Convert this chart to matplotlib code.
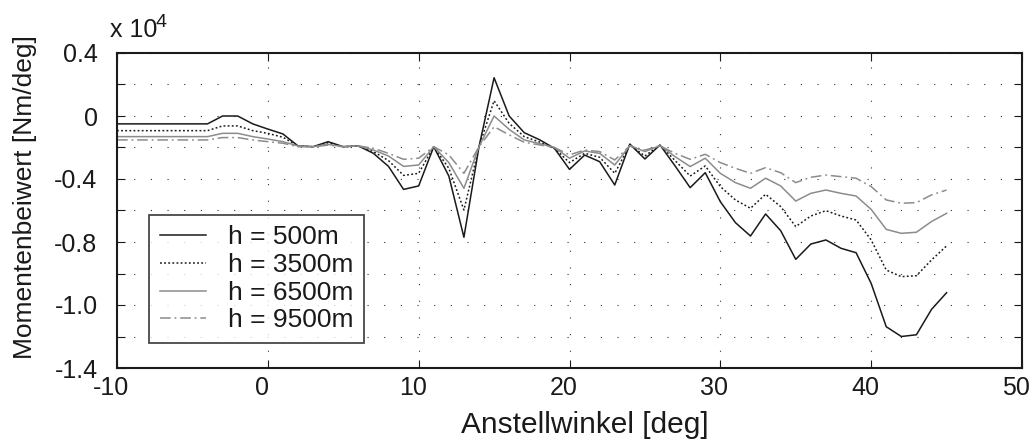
import matplotlib
matplotlib.use("Agg")
import matplotlib.pyplot as plt
import matplotlib.transforms as mtransforms
import numpy as np

plt.rcParams['font.family'] = ['Liberation Sans', 'DejaVu Sans']

x = [-10, -9, -8, -7, -6, -5, -4, -3, -2, -1, 0, 1, 2, 3, 4, 5, 6, 7, 8, 9, 10,
     11, 12, 13, 14, 15, 16, 17, 18, 19, 20, 21, 22, 23, 24, 25, 26, 27, 28, 29,
     30, 31, 32, 33, 34, 35, 36, 37, 38, 39, 40, 41, 42, 43, 44, 45]

h500 = [-0.05, -0.05, -0.05, -0.05, -0.05, -0.05, -0.05, 0.0, 0.0, -0.05, -0.083, -0.114,
        -0.19, -0.195, -0.163, -0.195, -0.19, -0.237, -0.32, -0.466, -0.444,
        -0.195, -0.381, -0.77, -0.195, 0.243, 0.0, -0.106, -0.15, -0.205, -0.339,
        -0.248, -0.29, -0.438, -0.178, -0.273, -0.184, -0.317, -0.455, -0.36,
        -0.544, -0.677, -0.762, -0.622, -0.728, -0.91, -0.813, -0.787, -0.84, -0.868,
        -1.063, -1.338, -1.40, -1.389, -1.228, -1.122]
h3500 = [-0.093, -0.093, -0.093, -0.093, -0.093, -0.093, -0.093, -0.063, -0.063, -0.093, -0.11, -0.135,
         -0.19, -0.195, -0.17, -0.195, -0.19, -0.226, -0.283, -0.377, -0.364,
         -0.195, -0.332, -0.597, -0.195, 0.097, -0.047, -0.131, -0.165, -0.205, -0.296,
         -0.237, -0.262, -0.364, -0.184, -0.254, -0.184, -0.283, -0.381, -0.317,
         -0.448, -0.533, -0.586, -0.497, -0.575, -0.702, -0.635, -0.601, -0.635, -0.66,
         -0.787, -0.978, -1.02, -1.014, -0.914, -0.825]
h6500 = [-0.131, -0.131, -0.131, -0.131, -0.131, -0.131, -0.131, -0.11, -0.11, -0.131, -0.146, -0.163,
         -0.19, -0.195, -0.18, -0.195, -0.19, -0.216, -0.254, -0.32, -0.311,
         -0.195, -0.296, -0.459, -0.195, 0.0, -0.085, -0.152, -0.175, -0.2, -0.268,
         -0.222, -0.237, -0.311, -0.188, -0.226, -0.188, -0.258, -0.321, -0.268,
         -0.364, -0.423, -0.459, -0.395, -0.444, -0.54, -0.491, -0.47, -0.491, -0.508,
         -0.593, -0.72, -0.745, -0.738, -0.67, -0.618]
h9500 = [-0.152, -0.152, -0.152, -0.152, -0.152, -0.152, -0.152, -0.137, -0.137, -0.152, -0.163, -0.173,
         -0.195, -0.195, -0.185, -0.195, -0.19, -0.205, -0.237, -0.275, -0.268,
         -0.195, -0.247, -0.364, -0.195, -0.068, -0.12, -0.167, -0.183, -0.2, -0.247,
         -0.216, -0.226, -0.279, -0.19, -0.216, -0.19, -0.237, -0.275, -0.243,
         -0.296, -0.332, -0.364, -0.328, -0.36, -0.423, -0.389, -0.375, -0.385, -0.395,
         -0.448, -0.533, -0.554, -0.55, -0.501, -0.47]

labels = ['h = 500m', 'h = 3500m', 'h = 6500m', 'h = 9500m']
ytick_pos = [0.4, 0.2, 0.0, -0.2, -0.4, -0.6, -0.8, -1.0, -1.2, -1.4, -1.6]
ytick_lbl = ['0.4', '', '0', '', '-0.4', '', '-0.8', '', '-1.0', '', '-1.4']
xtick_pos = [-10, 0, 10, 20, 30, 40, 50]

W, H = 1034, 444
fig = plt.figure(figsize=(W / 100, H / 100), dpi=100)
ax = fig.add_axes([117 / W, (H - 368) / H, (1022 - 117) / W, (368 - 53) / H])

dark = '#1a1a1a'
grey = '#8c8c8c'
ax.plot(x, h500, color=dark, lw=1.1, ls='-', label=labels[0])
ax.plot(x, h3500, color=dark, lw=1.1, ls=(0, (1.2, 1.5)), label=labels[1])
ax.plot(x, h6500, color=grey, lw=1.1, ls='-', label=labels[2])
ax.plot(x, h9500, color=grey, lw=1.1, ls=(0, (7, 2.5, 1.2, 2.5)), label=labels[3])

ax.set_xlim(-10, 50)
ax.set_ylim(-1.6, 0.4)
ax.set_xticks(xtick_pos)
ax.set_xticklabels([str(v) for v in xtick_pos])
ax.set_yticks(ytick_pos)
ax.set_yticklabels(ytick_lbl)
ax.tick_params(direction='in', length=6, width=0.8, top=True, right=True,
               labelsize=18, colors=dark)
ax.tick_params(axis='y', pad=14)
ax.tick_params(axis='x', pad=6)
shift = mtransforms.ScaledTranslation(-6 / 100, 0, fig.dpi_scale_trans)
for lbl in ax.get_xticklabels():
    lbl.set_transform(lbl.get_transform() + shift)
ax.grid(True, color='#333333', ls=(0, (1, 14)), lw=0.8)
for s in ax.spines.values():
    s.set_linewidth(1.5)
    s.set_color(dark)

fig.text(585 / W, 1 - 425 / H, 'Anstellwinkel [deg]', fontsize=21.5,
         ha='center', va='center', color=dark)
fig.text(25 / W, 1 - 197 / H, 'Momentenbeiwert [Nm/deg]', fontsize=19,
         ha='center', va='center', rotation=90, color=dark)
fig.text(110 / W, 1 - 37 / H, 'x 10', fontsize=18,
         ha='left', va='baseline', color=dark)
fig.text(156 / W, 1 - 27 / H, '4', fontsize=14,
         ha='left', va='baseline', color=dark)

leg = ax.legend(loc='lower left', bbox_to_anchor=((149 - 117) / 905, (368 - 343) / 315),
                fontsize=19, frameon=True, fancybox=False, edgecolor=dark,
                handlelength=1.75, handletextpad=0.85, borderpad=0.4,
                labelspacing=0.14, borderaxespad=0)
leg.get_frame().set_linewidth(1.3)
for t in leg.get_texts():
    t.set_color(dark)

fig.savefig('out.png', dpi=100)
